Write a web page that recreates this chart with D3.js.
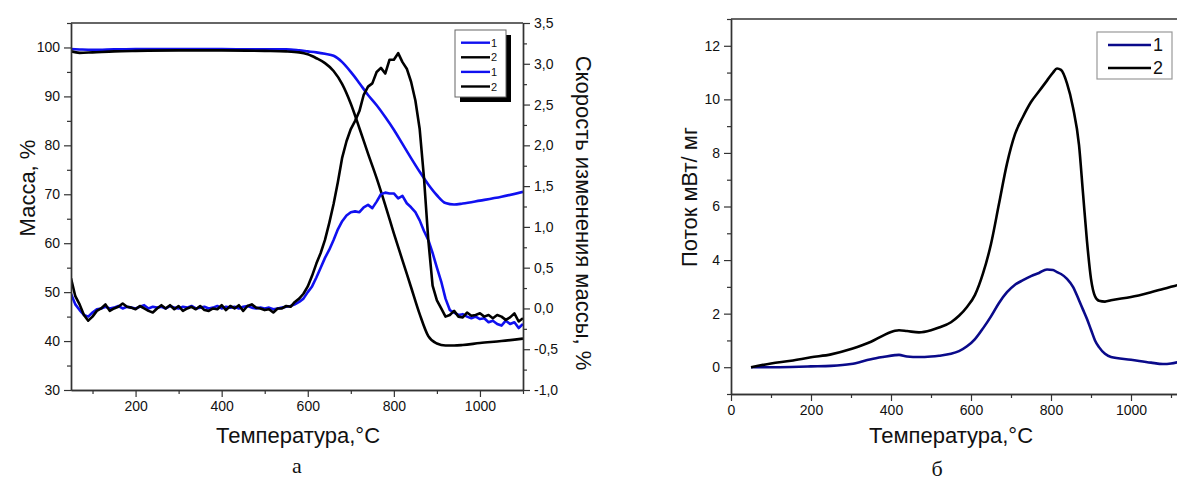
<!DOCTYPE html>
<html>
<head>
<meta charset="utf-8">
<script src="https://cdn.jsdelivr.net/npm/d3@7"></script>
<style>
  body { margin: 0; background: #fff; }
  text { font-family: "Liberation Sans", Arial, sans-serif; fill: #111; }
</style>
</head>
<body>
<svg id="chart" width="1177" height="481"></svg>
<script>
// ---- data ----
// TG, mass %, left axis of chart "а"
const tgTemp  = [50, 70, 100, 150, 200, 300, 400, 500, 550, 580, 600, 620, 640, 660, 680, 700, 720, 740, 760, 780,
                 800, 820, 840, 860, 880, 900, 920, 940, 960, 1000, 1050, 1100];
const tgMass1 = [99.7, 99.6, 99.5, 99.6, 99.7, 99.7, 99.7, 99.6, 99.6, 99.4, 99.2, 99.0, 98.7, 98.3, 97.0, 95.0, 92.7, 90.3, 88.2, 85.8,
                 83.2, 80.3, 77.4, 74.6, 72.0, 69.8, 68.2, 67.9, 68.1, 68.7, 69.5, 70.5];
const tgMass2 = [99.2, 98.9, 99.0, 99.2, 99.3, 99.4, 99.4, 99.3, 99.2, 99.0, 98.6, 97.8, 96.8, 95.2, 92.5, 88.5, 83.5, 78.3, 73.3, 67.8,
                 62.0, 56.5, 51.0, 45.5, 41.0, 39.5, 39.1, 39.1, 39.2, 39.6, 40.0, 40.5];

// DTG, %/min, right axis of chart "а"
const dtgTemp = [50, 60, 70, 80, 90, 100, 110, 120, 130, 140, 150, 160, 170, 180, 190, 200, 210, 220, 230, 240,
                 250, 260, 270, 280, 290, 300, 310, 320, 330, 340, 350, 360, 370, 380, 390, 400, 410, 420, 430, 440,
                 450, 460, 470, 480, 490, 500, 510, 520, 530, 540, 550, 560, 570, 580, 590, 600, 610, 620, 630, 640,
                 650, 660, 670, 680, 690, 700, 710, 720, 730, 740, 750, 760, 770, 780, 790, 800, 810, 820, 830, 840,
                 850, 860, 870, 880, 890, 900, 910, 920, 930, 940, 950, 960, 970, 980, 990, 1000, 1010, 1020, 1030, 1040,
                 1050, 1060, 1070, 1080, 1090, 1100];
const dtgRate1 = [0.18, 0.05, -0.02, -0.08, -0.10, -0.05, -0.01, 0.00, 0.02, 0.00, 0.01, 0.03, 0.00, 0.02, 0.01, 0.00, 0.02, 0.04, 0.00, 0.02,
                  0.01, 0.02, 0.00, 0.03, 0.01, 0.00, 0.02, 0.01, 0.03, 0.00, 0.01, 0.02, 0.00, 0.01, 0.03, 0.00, 0.02, 0.01, 0.02, 0.00,
                  0.02, 0.03, 0.01, 0.00, 0.01, 0.00, 0.01, -0.01, 0.00, 0.01, 0.02, 0.03, 0.05, 0.08, 0.12, 0.20, 0.27, 0.38, 0.50, 0.62,
                  0.72, 0.84, 0.97, 1.07, 1.14, 1.18, 1.19, 1.18, 1.24, 1.27, 1.23, 1.31, 1.40, 1.42, 1.41, 1.41, 1.35, 1.38, 1.29, 1.24,
                  1.18, 1.08, 0.95, 0.84, 0.68, 0.50, 0.33, 0.12, -0.02, -0.05, -0.08, -0.07, -0.10, -0.12, -0.10, -0.13, -0.12, -0.17, -0.15, -0.19,
                  -0.21, -0.15, -0.19, -0.17, -0.24, -0.19];
const dtgRate2 = [0.37, 0.15, 0.05, -0.08, -0.15, -0.10, -0.03, 0.00, 0.05, -0.03, 0.00, 0.02, 0.06, 0.02, 0.01, -0.01, 0.03, 0.00, -0.03, -0.05,
                  0.00, 0.04, 0.00, 0.04, -0.01, 0.03, -0.03, 0.00, 0.02, -0.01, 0.03, -0.02, -0.03, 0.00, -0.01, 0.04, -0.02, 0.03, 0.00, 0.04,
                  -0.03, 0.03, 0.05, 0.01, 0.00, -0.02, -0.01, -0.05, 0.00, 0.00, 0.03, 0.02, 0.08, 0.12, 0.18, 0.27, 0.40, 0.55, 0.68, 0.84,
                  1.05, 1.28, 1.55, 1.85, 2.05, 2.20, 2.30, 2.42, 2.62, 2.72, 2.76, 2.90, 2.95, 2.88, 3.05, 3.05, 3.13, 3.02, 2.94, 2.78,
                  2.55, 2.20, 1.60, 0.84, 0.28, 0.10, 0.00, -0.10, -0.08, -0.03, -0.10, -0.11, -0.05, -0.09, -0.08, -0.06, -0.10, -0.08, -0.12, -0.08,
                  -0.10, -0.14, -0.11, -0.06, -0.16, -0.12];

// DSC heat flow, mW/mg, chart "б"
const dscTemp  = [50, 100, 150, 200, 250, 300, 350, 380, 410, 420, 440, 470, 500, 520, 550, 570, 590, 610, 630, 650,
                  670, 690, 710, 730, 750, 770, 790, 805, 815, 825, 840, 855, 870, 880, 890, 900, 910, 920, 935, 950,
                  1000, 1050, 1080, 1100, 1120];
const dscFlow1 = [0.00, 0.00, 0.01, 0.03, 0.05, 0.12, 0.30, 0.38, 0.45, 0.46, 0.40, 0.38, 0.40, 0.43, 0.50, 0.60, 0.78, 1.05, 1.45, 1.90,
                  2.40, 2.80, 3.08, 3.25, 3.40, 3.52, 3.65, 3.63, 3.55, 3.48, 3.30, 3.00, 2.50, 2.15, 1.80, 1.40, 1.00, 0.75, 0.50, 0.38,
                  0.28, 0.17, 0.12, 0.14, 0.20];
const dscFlow2 = [0.00, 0.14, 0.24, 0.37, 0.48, 0.68, 0.95, 1.18, 1.36, 1.38, 1.35, 1.30, 1.38, 1.48, 1.68, 1.92, 2.25, 2.70, 3.50, 4.60,
                  6.10, 7.60, 8.70, 9.35, 9.90, 10.30, 10.70, 11.00, 11.15, 11.10, 10.60, 9.70, 8.30, 6.50, 4.70, 3.30, 2.65, 2.48, 2.45, 2.50,
                  2.62, 2.80, 2.92, 3.00, 3.08];

const seriesNames = ["1", "2"];
const massTicks = [30, 40, 50, 60, 70, 80, 90, 100];
const rateTicks = [-1, -0.5, 0, 0.5, 1, 1.5, 2, 2.5, 3, 3.5];
const tempTicksA = [200, 400, 600, 800, 1000];
const tempTicksB = [0, 200, 400, 600, 800, 1000];
const flowTicks = [0, 2, 4, 6, 8, 10, 12];

const blue = "#1010f0";
const navy = "#0a0a8a";

const svg = d3.select("#chart");
const comma = v => v.toFixed(1).replace(".", ",");

function styleAxis(g) {
    g.selectAll(".domain").attr("stroke", "#333").attr("stroke-width", 1.4);
    g.selectAll(".tick line").attr("stroke", "#333").attr("stroke-width", 1.2);
    g.selectAll(".tick text").attr("font-size", 14).attr("fill", "#111")
        .style("font-family", "'Liberation Sans', Arial, sans-serif");
}

// makeAxis returns a fresh d3 axis each time (minor ticks, then labelled major ticks)
function drawAxis(makeAxis, major, minor, fmt, transform) {
    svg.append("g").attr("transform", transform)
        .call(makeAxis().tickValues(minor).tickSize(4).tickSizeOuter(0).tickFormat(""))
        .call(styleAxis);
    svg.append("g").attr("transform", transform)
        .call(makeAxis().tickValues(major).tickSize(7).tickSizeOuter(0).tickPadding(4).tickFormat(fmt))
        .call(styleAxis);
}

// ================= chart а =================
const A = { left: 71, right: 523, top: 23, bottom: 390 };
const xA = d3.scaleLinear().domain([50, 1100]).range([A.left, A.right]);
const yMass = d3.scaleLinear().domain([30, 105]).range([A.bottom, A.top]);
const yRate = d3.scaleLinear().domain([-1, 3.5]).range([A.bottom, A.top]);

svg.append("defs").append("clipPath").attr("id", "clipA")
    .append("rect").attr("x", A.left).attr("y", A.top)
    .attr("width", A.right - A.left).attr("height", A.bottom - A.top);

const plotA = svg.append("g").attr("clip-path", "url(#clipA)");

const tgLine = d3.line().x(d => xA(d[0])).y(d => yMass(d[1])).curve(d3.curveMonotoneX);
const dtgLine = d3.line().x(d => xA(d[0])).y(d => yRate(d[1]));

plotA.append("path").datum(d3.zip(tgTemp, tgMass1)).attr("d", tgLine)
    .attr("fill", "none").attr("stroke", blue).attr("stroke-width", 2.6);
plotA.append("path").datum(d3.zip(tgTemp, tgMass2)).attr("d", tgLine)
    .attr("fill", "none").attr("stroke", "#000").attr("stroke-width", 2.6);
plotA.append("path").datum(d3.zip(dtgTemp, dtgRate1)).attr("d", dtgLine)
    .attr("fill", "none").attr("stroke", blue).attr("stroke-width", 2.6).attr("stroke-linejoin", "round");
plotA.append("path").datum(d3.zip(dtgTemp, dtgRate2)).attr("d", dtgLine)
    .attr("fill", "none").attr("stroke", "#000").attr("stroke-width", 2.6).attr("stroke-linejoin", "round");

// frame top
svg.append("line").attr("x1", A.left).attr("x2", A.right).attr("y1", A.top).attr("y2", A.top)
    .attr("stroke", "#333").attr("stroke-width", 1.4);

drawAxis(() => d3.axisBottom(xA), tempTicksA, [100, 300, 500, 700, 900, 1100], d3.format("d"),
    `translate(0,${A.bottom})`);
drawAxis(() => d3.axisLeft(yMass), massTicks, [35, 45, 55, 65, 75, 85, 95, 105], d3.format("d"),
    `translate(${A.left},0)`);
drawAxis(() => d3.axisRight(yRate), rateTicks, [-0.75, -0.25, 0.25, 0.75, 1.25, 1.75, 2.25, 2.75, 3.25], comma,
    `translate(${A.right},0)`);

// titles
svg.append("text").attr("transform", "translate(27,188) rotate(-90)")
    .attr("text-anchor", "middle").attr("dominant-baseline", "central")
    .attr("font-size", 22).text("Масса, %");
svg.append("text").attr("transform", "translate(583,213) rotate(90)")
    .attr("text-anchor", "middle").attr("dominant-baseline", "central")
    .attr("font-size", 22).text("Скорость изменения массы, %");
svg.append("text").attr("x", 298).attr("y", 443).attr("text-anchor", "middle")
    .attr("font-size", 22).text("Температура,°C");
svg.append("text").attr("x", 297).attr("y", 473).attr("text-anchor", "middle")
    .attr("font-size", 22).style("font-family", "'Liberation Serif', 'Times New Roman', serif").text("а");

// legend а (with drop shadow)
const legA = svg.append("g").attr("transform", "translate(455,30)");
legA.append("rect").attr("x", 5).attr("y", 5).attr("width", 51).attr("height", 67).attr("fill", "#000");
legA.append("rect").attr("width", 51).attr("height", 67).attr("fill", "#fff")
    .attr("stroke", "#666").attr("stroke-width", 1);
const legRowsA = [blue, "#000", blue, "#000"];
legRowsA.forEach((c, i) => {
    const y = 12.7 + i * 14.6;
    legA.append("line").attr("x1", 6).attr("x2", 35).attr("y1", y).attr("y2", y)
        .attr("stroke", c).attr("stroke-width", 2.4);
    legA.append("text").attr("x", 36).attr("y", y).attr("dominant-baseline", "central")
        .attr("font-size", 11).text(seriesNames[i % 2]);
});

// ================= chart б =================
const B = { left: 731, right: 1179, top: 19, bottom: 394 };
const xB = d3.scaleLinear().domain([0, 1120]).range([B.left, B.right]);
const yFlow = d3.scaleLinear().domain([-1, 13]).range([B.bottom, B.top]);

svg.append("defs").append("clipPath").attr("id", "clipB")
    .append("rect").attr("x", B.left).attr("y", B.top)
    .attr("width", B.right - B.left).attr("height", B.bottom - B.top);

const plotB = svg.append("g").attr("clip-path", "url(#clipB)");
const dscLine = d3.line().x(d => xB(d[0])).y(d => yFlow(d[1])).curve(d3.curveMonotoneX);

plotB.append("path").datum(d3.zip(dscTemp, dscFlow1)).attr("d", dscLine)
    .attr("fill", "none").attr("stroke", navy).attr("stroke-width", 2.6);
plotB.append("path").datum(d3.zip(dscTemp, dscFlow2)).attr("d", dscLine)
    .attr("fill", "none").attr("stroke", "#000").attr("stroke-width", 2.6);

svg.append("line").attr("x1", B.left).attr("x2", B.right).attr("y1", B.top).attr("y2", B.top)
    .attr("stroke", "#333").attr("stroke-width", 1.4);

drawAxis(() => d3.axisBottom(xB), tempTicksB, [100, 300, 500, 700, 900, 1100], d3.format("d"),
    `translate(0,${B.bottom})`);
drawAxis(() => d3.axisLeft(yFlow), flowTicks, [-1, 1, 3, 5, 7, 9, 11, 13], d3.format("d"),
    `translate(${B.left},0)`);

svg.append("text").attr("transform", "translate(689,197) rotate(-90)")
    .attr("text-anchor", "middle").attr("dominant-baseline", "central")
    .attr("font-size", 22).text("Поток мВт/ мг");
svg.append("text").attr("x", 951).attr("y", 443).attr("text-anchor", "middle")
    .attr("font-size", 22).text("Температура,°C");
svg.append("text").attr("x", 937).attr("y", 476).attr("text-anchor", "middle")
    .attr("font-size", 22).style("font-family", "'Liberation Serif', 'Times New Roman', serif").text("б");

// legend б
const legB = svg.append("g").attr("transform", "translate(1097,32)");
legB.append("rect").attr("width", 75).attr("height", 47).attr("fill", "#fff")
    .attr("stroke", "#999").attr("stroke-width", 1.2);
[navy, "#000"].forEach((c, i) => {
    const y = 13 + i * 23;
    legB.append("line").attr("x1", 11).attr("x2", 54).attr("y1", y).attr("y2", y)
        .attr("stroke", c).attr("stroke-width", 2.6);
    legB.append("text").attr("x", 56).attr("y", y).attr("dominant-baseline", "central")
        .attr("font-size", 18).text(seriesNames[i]);
});
</script>
</body>
</html>
